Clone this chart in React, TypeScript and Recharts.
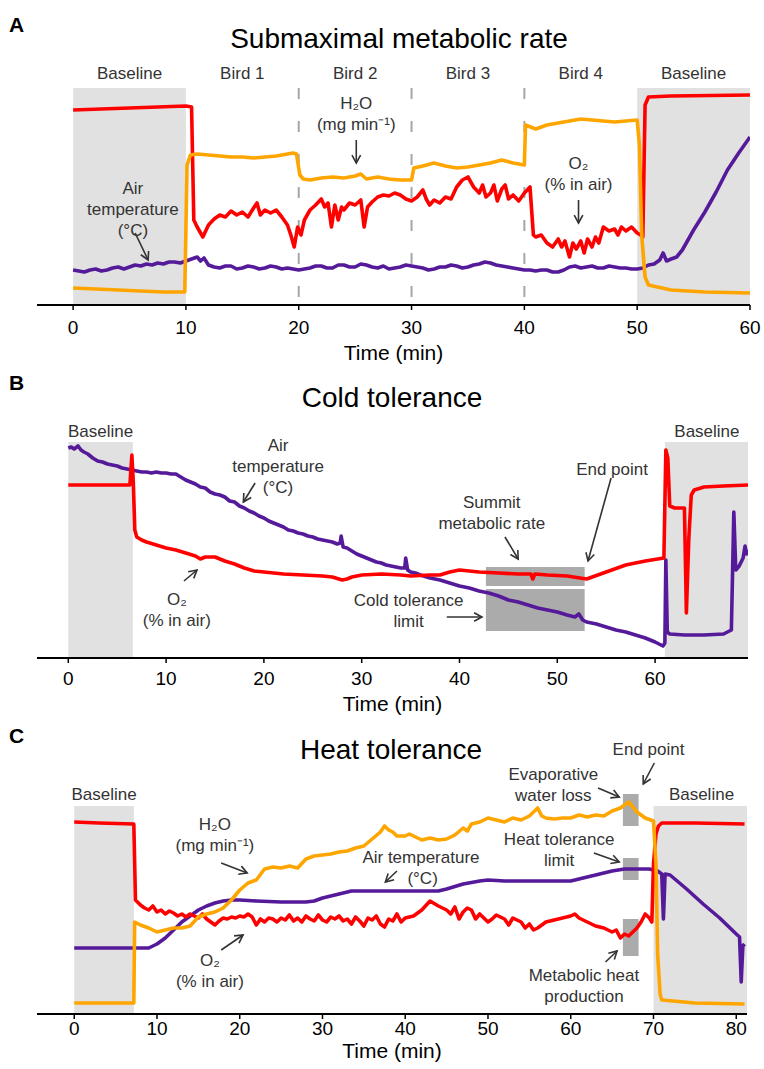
import {
  LineChart,
  Line,
  XAxis,
  YAxis,
  ReferenceArea,
  ReferenceLine,
  ReferenceDot,
} from 'recharts'

const FONT = '"Liberation Sans", Arial, Helvetica, sans-serif'
const RED = '#ff0000'
const ORANGE = '#ffa500'
const PURPLE = '#551a99'
const SHADE = '#e1e1e1'
const BOX = '#ababab'
const INK = '#333333'

type Pt = [number, number]

// ---- A: submaximal metabolic rate (time in min, relative signal height)
const aTemp: Pt[] = [
  [0, 35], [0.5, 34], [1, 33], [1.5, 35], [2, 36], [2.5, 34], [3, 35], [3.5, 37], [4, 38], [4.5, 36],
  [5, 38], [5.5, 40], [6, 39], [6.5, 41], [7, 40], [7.5, 42], [8, 41], [8.5, 43], [9, 43], [9.5, 42],
  [10, 44], [10.5, 46], [11, 48], [11.3, 44], [11.6, 47], [12, 40], [12.5, 38], [13, 37], [13.5, 39],
  [14, 39], [14.5, 36], [15, 37], [15.5, 39], [16, 38], [16.5, 36], [17, 37], [17.5, 39], [18, 38],
  [18.5, 36], [19, 37], [19.5, 36], [20, 35], [20.5, 36], [21, 37], [21.5, 39], [22, 39], [22.5, 37],
  [23, 37], [23.5, 40], [24, 40], [24.5, 38], [25, 38], [25.5, 41], [26, 40], [26.5, 38], [27, 37],
  [27.5, 39], [28, 36], [28.5, 37], [29, 38], [29.5, 40], [30, 39], [30.5, 38], [31, 37], [31.5, 35],
  [32, 36], [32.5, 38], [33, 38], [33.5, 40], [34, 39], [34.5, 37], [35, 38], [35.5, 40], [36, 41],
  [36.5, 43], [37, 42], [37.5, 40], [38, 39], [38.5, 38], [39, 37], [39.5, 36], [40, 35], [40.5, 35],
  [41, 34], [41.5, 35], [42, 35], [42.5, 33], [43, 33], [43.5, 35], [44, 38], [44.5, 39], [45, 37],
  [45.5, 38], [46, 39], [46.5, 37], [47, 37], [47.5, 39], [48, 38], [48.5, 37], [49, 37], [49.5, 36],
  [50, 36], [50.5, 37], [51, 40], [51.5, 41], [52, 45], [52.3, 52], [52.6, 44], [53, 46], [53.5, 48],
  [54, 55], [55, 75], [56, 93], [57, 113], [58, 135], [59, 152], [60, 168],
]
const aO2: Pt[] = [
  [0, 195], [5, 197], [10, 199], [10.5, 198], [10.7, 85], [11, 78], [11.5, 68], [12, 80], [12.5, 86],
  [13, 90], [13.5, 88], [14, 94], [14.5, 90], [15, 93], [15.5, 88], [16, 97], [16.3, 102], [16.6, 90],
  [17, 95], [17.5, 92], [18, 95], [18.5, 88], [19, 80], [19.3, 70], [19.6, 58], [19.9, 78], [20.2, 70],
  [20.5, 85], [21, 95], [21.5, 100], [22, 106], [22.3, 98], [22.6, 102], [22.9, 78], [23.2, 100],
  [23.5, 85], [23.8, 98], [24, 95], [24.5, 102], [25, 100], [25.5, 105], [25.8, 78], [26.1, 98],
  [26.5, 103], [27, 108], [27.5, 110], [28, 109], [28.5, 112], [29, 110], [29.5, 106], [30, 104],
  [30.5, 108], [31, 115], [31.3, 106], [31.6, 100], [32, 105], [32.5, 102], [33, 108], [33.5, 106],
  [34, 118], [34.5, 125], [35, 128], [35.5, 118], [36, 112], [36.3, 120], [36.6, 108], [37, 112],
  [37.3, 120], [37.6, 104], [38, 116], [38.3, 120], [38.6, 106], [39, 110], [39.5, 104], [40, 112],
  [40.5, 118], [40.8, 70], [41, 68], [41.5, 70], [42, 62], [42.5, 58], [43, 66], [43.3, 58], [43.6, 64],
  [44, 48], [44.3, 62], [44.6, 56], [45, 64], [45.3, 52], [45.6, 66], [46, 58], [46.3, 68], [46.6, 62],
  [47, 78], [47.5, 74], [48, 76], [48.3, 70], [48.6, 78], [49, 74], [49.5, 78], [50, 72], [50.3, 70],
  [50.5, 68], [50.7, 200], [51, 208], [53, 209], [60, 210],
]
const aH2O: Pt[] = [
  [0, 17], [2, 16], [4, 15], [6, 14], [8, 13], [9.9, 13], [10.1, 140], [10.4, 150], [11, 151], [12, 150],
  [13, 149], [14, 148], [15, 148], [16, 147], [17, 148], [18, 149], [19, 151], [19.5, 152], [19.8, 151],
  [20.1, 130], [20.4, 126], [21, 125], [22, 127], [23, 128], [24, 127], [25, 129], [25.5, 131], [26, 126],
  [27, 128], [28, 126], [29, 125], [30, 125], [30.2, 137], [31, 139], [32, 142], [33, 139], [34, 137],
  [35, 138], [36, 140], [37, 142], [38, 145], [39, 142], [40, 140], [40.1, 180], [41, 176], [42, 180],
  [43, 182], [44, 184], [45, 186], [46, 185], [47, 184], [48, 183], [49, 184], [50, 185], [50.2, 160],
  [50.4, 70], [50.7, 28], [51, 20], [53, 15], [56, 13], [60, 12],
]
const aPeriods = ['Baseline', 'Bird 1', 'Bird 2', 'Bird 3', 'Bird 4', 'Baseline']

// ---- B: cold tolerance
const bTemp: Pt[] = [
  [0, 210], [0.3, 211], [0.6, 209], [1, 212], [1.3, 208], [1.6, 206], [2, 204], [2.5, 200], [3, 197],
  [3.5, 196], [4, 194], [4.5, 193], [5, 192], [5.5, 190], [6, 189], [6.5, 188], [7, 187], [7.5, 186],
  [8, 186], [8.5, 185], [9, 186], [9.5, 185], [10, 185], [10.5, 184], [11, 184], [11.5, 181], [12, 178],
  [12.5, 176], [13, 174], [13.5, 171], [14, 170], [14.5, 166], [15, 164], [15.5, 163], [16, 161],
  [16.5, 157], [17, 156], [17.5, 152], [18, 150], [18.5, 147], [19, 145], [19.5, 142], [20, 140],
  [20.5, 137], [21, 135], [21.5, 133], [22, 131], [22.5, 128], [23, 127], [23.5, 125], [24, 124],
  [24.5, 122], [25, 121], [25.5, 119], [26, 118], [26.5, 117], [27, 116], [27.5, 114], [27.8, 115],
  [27.9, 122], [28.1, 111], [28.5, 110], [29, 107], [29.5, 104], [30, 102], [30.5, 100], [31, 98],
  [31.5, 96], [32, 95], [32.5, 93], [33, 92], [33.5, 91], [34, 90], [34.4, 90], [34.5, 100], [34.7, 88],
  [35, 86], [35.5, 85], [36, 83], [37, 80], [38, 78], [39, 75], [40, 72], [41, 70], [42, 67], [43, 65],
  [44, 62], [45, 58], [46, 56], [47, 53], [48, 50], [49, 48], [50, 46], [51, 43], [51.8, 41], [52.2, 44],
  [52.6, 38], [53, 36], [54, 34], [55, 31], [56, 28], [57, 26], [58, 23], [59, 20], [60, 16], [60.8, 12],
  [61, 15], [61.1, 98], [61.25, 26], [61.5, 24], [63, 23], [65, 23], [67, 24], [67.8, 28], [68.05, 146],
  [68.25, 88], [68.6, 92], [69, 100], [69.2, 112], [69.35, 104], [69.5, 108],
]
const bO2: Pt[] = [
  [0, 173], [3, 173], [6.3, 173], [6.5, 203], [6.65, 175], [6.8, 128], [7, 121], [7.5, 118], [8, 116],
  [9, 113], [10, 110], [11, 108], [12, 105], [13, 102], [13.5, 99], [14, 101], [15, 101], [16, 97],
  [17, 94], [18, 90], [19, 87], [20, 86], [22, 84], [24, 83], [26, 82], [27, 81], [28, 78], [28.5, 79],
  [29, 81], [30, 83], [32, 84], [34, 83], [35, 82], [37, 83], [38, 83], [39, 86], [40, 88], [42, 86],
  [44, 85], [46, 84], [47.3, 84], [47.5, 79], [47.7, 84], [49, 83], [51, 82], [53, 79], [55, 86],
  [57, 93], [59, 97], [60.9, 100], [61.1, 208], [61.3, 200], [61.5, 152], [62, 150], [63, 150],
  [63.2, 45], [63.45, 120], [63.7, 163], [64, 168], [65, 171], [67, 172], [69.5, 173],
]

// ---- C: heat tolerance
const cTemp: Pt[] = [
  [0, 66], [9, 66], [10, 70], [11, 76], [12, 84], [13, 92], [14, 98], [15, 104], [16, 108], [17, 111],
  [18, 113], [19, 114], [20, 114], [22, 113], [25, 112], [28, 112], [29, 113], [30, 116], [32, 120],
  [33.5, 123], [35, 123], [40, 123], [44, 123], [45, 125], [47, 130], [49, 133], [50, 134], [52, 133],
  [55, 133], [60, 133], [61, 135], [63, 139], [65, 143], [66.5, 145], [68, 145], [69.5, 145], [70.5, 143],
  [71, 140], [71.2, 95], [71.4, 140], [72, 139], [74, 125], [76, 110], [78, 96], [80, 80], [80.4, 77],
  [80.6, 32], [80.8, 68], [81, 70],
]
const cO2: Pt[] = [
  [0, 192], [3, 191], [7.2, 190], [7.4, 114], [8, 109], [8.5, 106], [9, 104], [9.5, 108], [10, 102],
  [10.5, 104], [11, 100], [11.5, 103], [12, 101], [12.5, 98], [13, 100], [13.5, 97], [14, 100],
  [14.5, 98], [15, 96], [15.5, 100], [16, 95], [16.5, 92], [17, 89], [17.5, 93], [18, 96], [18.5, 95],
  [19, 97], [19.5, 96], [20, 98], [20.5, 97], [21, 100], [21.5, 97], [22, 89], [22.5, 95], [23, 92],
  [23.5, 96], [24, 95], [24.5, 92], [25, 96], [25.5, 94], [26, 99], [26.5, 93], [27, 96], [27.5, 92],
  [28, 98], [28.5, 95], [29, 93], [29.5, 99], [30, 94], [30.5, 92], [31, 97], [31.5, 95], [32, 98],
  [32.5, 93], [33, 95], [33.5, 90], [34, 97], [34.5, 93], [35, 88], [35.5, 96], [36, 94], [36.5, 98],
  [37, 90], [37.5, 87], [38, 95], [38.5, 93], [39, 100], [39.5, 92], [40, 96], [41, 98], [42, 104],
  [43, 113], [44, 108], [45, 104], [45.5, 100], [46, 107], [46.5, 95], [47, 102], [47.5, 106], [48, 104],
  [48.5, 95], [49, 100], [50, 92], [50.5, 95], [51, 99], [52, 95], [52.5, 89], [53, 96], [54, 92],
  [54.5, 86], [55, 90], [55.5, 84], [56, 86], [57, 92], [58, 94], [59, 96], [60, 98], [60.5, 100],
  [61, 96], [62, 92], [63, 88], [64, 86], [65, 82], [65.5, 84], [66, 76], [66.5, 80], [67, 78],
  [67.5, 82], [68, 86], [68.5, 92], [69, 100], [69.5, 96], [69.8, 92], [70, 150], [70.3, 180],
  [70.6, 188], [71, 191], [75, 191], [81, 190],
]
const cH2O: Pt[] = [
  [0, 11], [7.2, 11], [7.3, 92], [8, 89], [9, 86], [10, 82], [11, 84], [12, 86], [13, 86], [14, 88],
  [15, 97], [16, 100], [17, 102], [18, 106], [19, 114], [20, 124], [21, 131], [22, 134], [23, 145],
  [24, 147], [25, 146], [26, 148], [27, 146], [28, 155], [29, 158], [30, 159], [31, 160], [32, 162],
  [33, 163], [34, 166], [35, 168], [36, 175], [37, 182], [37.5, 188], [38, 184], [38.5, 182], [39, 178],
  [40, 178], [40.5, 180], [41, 178], [42, 174], [43, 176], [44, 174], [45, 175], [46, 179], [47, 186],
  [47.5, 183], [48, 190], [49, 192], [50, 196], [51, 194], [52, 192], [53, 196], [54, 194], [55, 198],
  [56, 206], [56.5, 198], [57, 196], [58, 195], [59, 196], [60, 196], [61, 199], [62, 197], [63, 199],
  [64, 198], [65, 203], [66, 206], [67, 212], [67.5, 207], [68, 202], [69, 196], [70, 193], [70.3, 150],
  [70.5, 60], [70.8, 20], [71, 14], [75, 11], [81, 10],
]

// ---- annotations, in chart (time, height) units
type Note = [number, number, string[]]
type Arrow = [Pt, Pt]
type Box = [number, number, number, number]

const aNotes: Note[] = [
  ...aPeriods.map((p, i): Note => [5 + i * 10, 232, [p]]),
  [25.1, 202, ['H₂O', '(mg min⁻¹)']],
  [5.3, 117, ['Air', 'temperature', '(°C)']],
  [44.8, 142, ['O₂', '(% in air)']],
]
const aArrows: Arrow[] = [
  [[25.1, 165], [25.1, 142]],
  [[5.5, 72], [6.65, 45]],
  [[44.8, 105], [44.8, 82]],
]

const bNotes: Note[] = [
  [3.3, 227, ['Baseline']],
  [65.3, 227, ['Baseline']],
  [21.45, 213, ['Air', 'temperature', '(°C)']],
  [11.1, 59, ['O₂', '(% in air)']],
  [43.3, 156, ['Summit', 'metabolic rate']],
  [55.6, 189, ['End point']],
  [34.8, 58, ['Cold tolerance', 'limit']],
]
const bArrows: Arrow[] = [
  [[19.1, 175], [17.9, 156]],
  [[11.83, 77], [13.16, 88]],
  [[44.65, 121], [46.0, 99]],
  [[55.5, 180], [53.14, 97]],
  [[38.7, 41], [42.3, 41]],
]
const bBoxes: Box[] = [
  [42.7, 52.8, 72, 91],
  [42.7, 52.8, 27, 69],
]

const cNotes: Note[] = [
  [3.6, 220, ['Baseline']],
  [75.8, 220, ['Baseline']],
  [17.0, 190, ['H₂O', '(mg min⁻¹)']],
  [16.4, 54, ['O₂', '(% in air)']],
  [41.9, 157, ['Air temperature']],
  [42.1, 136, ['(°C)']],
  [69.4, 265, ['End point']],
  [57.9, 240, ['Evaporative', 'water loss']],
  [58.6, 175, ['Heat tolerance', 'limit']],
  [61.6, 39, ['Metabolic heat', 'production']],
]
const cArrows: Arrow[] = [
  [[17.76, 151], [20.9, 141]],
  [[17.76, 64], [20.4, 79]],
  [[39.0, 143], [37.6, 132]],
  [[70.1, 251], [68.76, 230]],
  [[63.3, 226], [65.86, 217]],
  [[62.8, 161], [65.86, 152]],
  [[64.2, 52], [65.6, 63]],
]
const cBoxes: Box[] = [
  [66.3, 68.2, 188, 220],
  [66.3, 68.2, 134, 156],
  [66.3, 68.2, 58, 95],
]

const toPts = (arr: Pt[]) => arr.map(([t, v]) => ({ t, v }))

const arrowShape = (p: any) => {
  const { x1, y1, x2, y2 } = p
  const a = Math.atan2(y2 - y1, x2 - x1)
  const h = 9
  const s = 0.5
  const lx = x2 - h * Math.cos(a - s)
  const ly = y2 - h * Math.sin(a - s)
  const rx = x2 - h * Math.cos(a + s)
  const ry = y2 - h * Math.sin(a + s)
  return (
    <g>
      <line x1={x1} y1={y1} x2={x2} y2={y2} stroke={INK} strokeWidth={1.6} />
      <polyline
        points={`${lx},${ly} ${x2},${y2} ${rx},${ry}`}
        fill="none"
        stroke={INK}
        strokeWidth={1.6}
      />
    </g>
  )
}

const noteShape = (lines: string[]) => (p: any) => (
  <text textAnchor="middle" fontFamily={FONT} fontSize={17} fill={INK}>
    {lines.map((s, i) => (
      <tspan key={i} x={p.cx} y={p.cy + 6 + i * 21}>
        {s}
      </tspan>
    ))}
  </text>
)

interface Series {
  name: string
  color: string
  data: Pt[]
}

interface PanelProps {
  top: number
  height: number
  margin: { top: number; right: number; bottom: number; left: number }
  xDomain: [number, number]
  yMax: number
  ticks: number[]
  axisHeight: number
  tickMargin: number
  labelOffset: number
  shades: [number, number][]
  shadeTop: number
  dashes?: number[]
  boxes?: Box[]
  series: Series[]
  notes: Note[]
  arrows: Arrow[]
}

function Panel(props: PanelProps) {
  const p = props
  return (
    <div style={{ position: 'absolute', left: 0, top: p.top }}>
      <LineChart width={764} height={p.height} margin={p.margin}>
        <XAxis
          type="number"
          dataKey="t"
          domain={p.xDomain}
          allowDataOverflow
          ticks={p.ticks}
          height={p.axisHeight}
          tickSize={5}
          tickMargin={p.tickMargin}
          axisLine={{ stroke: '#000', strokeWidth: 2 }}
          tickLine={{ stroke: '#000', strokeWidth: 1.5 }}
          tick={{ fontSize: 19, fill: '#000', fontFamily: FONT }}
          label={{
            value: 'Time (min)',
            position: 'insideBottom',
            offset: p.labelOffset,
            fontSize: 21,
            fill: '#000',
            fontFamily: FONT,
          }}
        />
        <YAxis
          type="number"
          domain={[0, p.yMax]}
          allowDataOverflow
          width={0}
          tick={false}
          tickLine={false}
          axisLine={{ stroke: '#000', strokeWidth: 2 }}
        />
        {p.shades.map(([x1, x2], i) => (
          <ReferenceArea
            key={`s${i}`}
            x1={x1}
            x2={x2}
            y1={0}
            y2={p.shadeTop}
            fill={SHADE}
            fillOpacity={1}
            stroke="none"
            ifOverflow="visible"
          />
        ))}
        {(p.boxes || []).map(([x1, x2, y1, y2], i) => (
          <ReferenceArea
            key={`b${i}`}
            x1={x1}
            x2={x2}
            y1={y1}
            y2={y2}
            fill={BOX}
            fillOpacity={1}
            stroke="none"
            ifOverflow="visible"
          />
        ))}
        {(p.dashes || []).map((x) => (
          <ReferenceLine
            key={`d${x}`}
            segment={[
              { x, y: p.shadeTop },
              { x, y: 0 },
            ]}
            stroke="#a6a6a6"
            strokeWidth={2}
            strokeDasharray="11 22"
            ifOverflow="visible"
          />
        ))}
        {p.series.map((s) => (
          <Line
            key={s.name}
            name={s.name}
            data={toPts(s.data)}
            dataKey="v"
            type="linear"
            stroke={s.color}
            strokeWidth={3.6}
            strokeLinejoin="round"
            dot={false}
            activeDot={false}
            isAnimationActive={false}
          />
        ))}
        {p.arrows.map(([a, b], i) => (
          <ReferenceLine
            key={`a${i}`}
            segment={[
              { x: a[0], y: a[1] },
              { x: b[0], y: b[1] },
            ]}
            shape={arrowShape}
            ifOverflow="visible"
          />
        ))}
        {p.notes.map(([t, v, lines], i) => (
          <ReferenceDot
            key={`n${i}`}
            x={t}
            y={v}
            r={0}
            ifOverflow="visible"
            shape={noteShape(lines)}
          />
        ))}
      </LineChart>
    </div>
  )
}

const titles = [
  { letter: 'A', letterY: 32, text: 'Submaximal metabolic rate', x: 399, y: 48 },
  { letter: 'B', letterY: 390, text: 'Cold tolerance', x: 392, y: 407 },
  { letter: 'C', letterY: 743, text: 'Heat tolerance', x: 391, y: 759 },
]

export default function App() {
  return (
    <div
      style={{
        position: 'absolute',
        left: 0,
        top: 0,
        width: 764,
        height: 1069,
        background: '#fff',
        fontFamily: FONT,
      }}
    >
      <svg width={764} height={1069} style={{ position: 'absolute', left: 0, top: 0 }}>
        {titles.map((t) => (
          <g key={t.letter}>
            <text x={9} y={t.letterY} fontSize={21} fontWeight="bold" fontFamily={FONT} fill="#000">
              {t.letter}
            </text>
            <text x={t.x} y={t.y} fontSize={28} textAnchor="middle" fontFamily={FONT} fill="#000">
              {t.text}
            </text>
          </g>
        ))}
      </svg>

      {/* A: submaximal metabolic rate */}
      <Panel
        top={0}
        height={370}
        margin={{ top: 84, right: 14, bottom: 5, left: 37 }}
        xDomain={[-3.2, 60]}
        yMax={221}
        ticks={[0, 10, 20, 30, 40, 50, 60]}
        axisHeight={60}
        tickMargin={11}
        labelOffset={5}
        shades={[[0, 10], [50, 60]]}
        shadeTop={217}
        dashes={[20, 30, 40]}
        series={[
          { name: 'Air temperature', color: PURPLE, data: aTemp },
          { name: 'O2', color: RED, data: aO2 },
          { name: 'H2O', color: ORANGE, data: aH2O },
        ]}
        notes={aNotes}
        arrows={aArrows}
      />

      {/* B: cold tolerance */}
      <Panel
        top={365}
        height={355}
        margin={{ top: 73, right: 16, bottom: 2, left: 37 }}
        xDomain={[-3.2, 69.5]}
        yMax={220}
        ticks={[0, 10, 20, 30, 40, 50, 60]}
        axisHeight={60}
        tickMargin={9}
        labelOffset={7}
        shades={[[0, 6.6], [61, 69.5]]}
        shadeTop={216}
        boxes={bBoxes}
        series={[
          { name: 'Air temperature', color: PURPLE, data: bTemp },
          { name: 'O2', color: RED, data: bO2 },
        ]}
        notes={bNotes}
        arrows={bArrows}
      />

      {/* C: heat tolerance */}
      <Panel
        top={720}
        height={349}
        margin={{ top: 75, right: 17, bottom: 8, left: 37 }}
        xDomain={[-4.5, 81.3]}
        yMax={219}
        ticks={[0, 10, 20, 30, 40, 50, 60, 70, 80]}
        axisHeight={47}
        tickMargin={3}
        labelOffset={3}
        shades={[[0, 7.2], [70, 81.3]]}
        shadeTop={208}
        boxes={cBoxes}
        series={[
          { name: 'Air temperature', color: PURPLE, data: cTemp },
          { name: 'O2', color: RED, data: cO2 },
          { name: 'H2O', color: ORANGE, data: cH2O },
        ]}
        notes={cNotes}
        arrows={cArrows}
      />
    </div>
  )
}
